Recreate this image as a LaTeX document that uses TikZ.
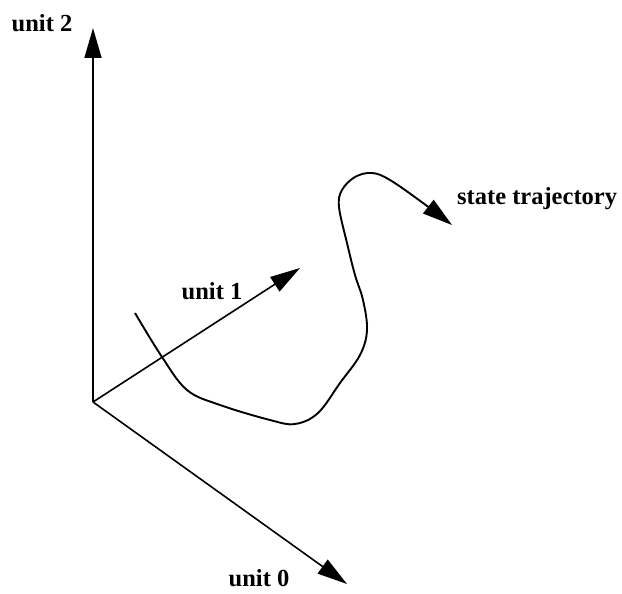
\documentclass[tikz,border=0pt]{standalone}
\usepackage{fontspec}
\setmainfont{Liberation Serif}
\usetikzlibrary{arrows.meta,positioning}

\begin{document}
\begin{tikzpicture}[
x=1pt,y=-1pt,
lbl/.style={font=\fontsize{24.5}{28}\selectfont\bfseries,inner sep=0pt},
arr/.style={-{Triangle[length=30pt,width=17pt]},line width=1.6pt},
traj/.style={-{Triangle[length=30pt,width=17pt]},line width=1.9pt}]
\useasboundingbox (0,0) rectangle (622,594);
\coordinate (origin) at (93,402);
\coordinate (tip2) at (93,28);
\coordinate (tip1) at (300,268);
\coordinate (tip0) at (347,584);
\node[lbl] (unit2) at (42,23) {unit 2};
\node[lbl] (unit1) at (212,291) {unit 1};
\node[lbl] (unit0) at (259,578) {unit 0};
\node[lbl,anchor=west] (state) at (457,199) {state trajectory};
\draw[arr] (origin) -- (tip2);
\draw[arr] (origin) -- (tip1);
\draw[arr] (origin) -- (tip0);
% trajectory through state space
\draw[traj] plot[smooth,tension=0.6] coordinates {(135,313) (162,357) (187,390) (220,405) (270,420) (295,424) (318,413) (340,383) (360,355) (367,330) (363,300) (355,275) (347,243) (339,207) (342,190) (355,177) (372,173) (390,180) (423,203) (452,225)};
\end{tikzpicture}
\end{document}
